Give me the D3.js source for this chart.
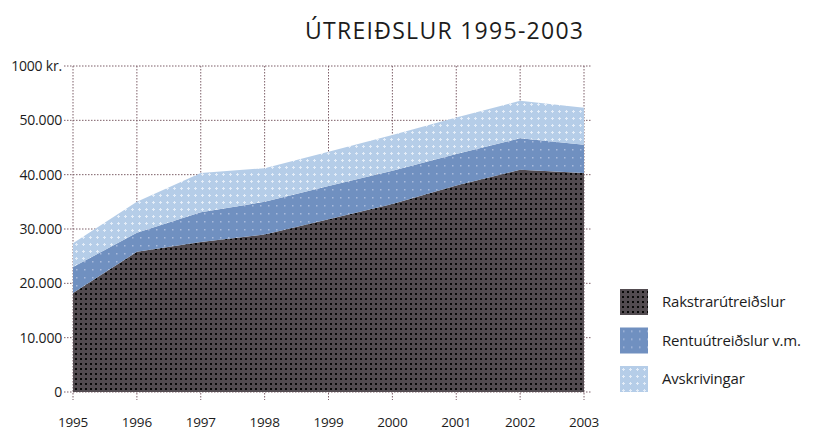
<!DOCTYPE html>
<html>
<head>
<meta charset="utf-8">
<script src="https://cdn.jsdelivr.net/npm/d3@7"></script>
<style>
  body { margin: 0; background: #fff; }
  svg { display: block; }
  text { font-family: "Open Sans", "DejaVu Sans", sans-serif; fill: #1c1c1c; }
</style>
</head>
<body>
<div id="chart"></div>
<script>
// data, 1000 kr.
const years = [1995, 1996, 1997, 1998, 1999, 2000, 2001, 2002, 2003];
const rakstrar = [18200, 25800, 27600, 29000, 31800, 34600, 38000, 40900, 40300];
const rentu = [4800, 3500, 5500, 6000, 6100, 6100, 5800, 5800, 5200];
const avskriv = [4400, 5700, 7200, 6200, 6300, 6600, 6700, 6900, 6800];
const seriesNames = ['Rakstrarútreiðslur', 'Rentuútreiðslur v.m.', 'Avskrivingar'];
const yTicks = [0, 10000, 20000, 30000, 40000, 50000, 60000];
const title = 'ÚTREIÐSLUR 1995-2003';

const width = 824, height = 433;
const margin = { top: 66, right: 240, bottom: 41, left: 73 };
const chartWidth = width - margin.left - margin.right;
const chartHeight = height - margin.top - margin.bottom;

const svg = d3.select('#chart').append('svg')
  .attr('width', width)
  .attr('height', height);

// textures for the three areas
const defs = svg.append('defs');
const dark = defs.append('pattern').attr('id', 'pat0')
  .attr('width', 5).attr('height', 5).attr('patternUnits', 'userSpaceOnUse');
dark.append('rect').attr('width', 5).attr('height', 5).attr('fill', '#524b50');
dark.append('rect').attr('x', 2).attr('y', 2).attr('width', 2).attr('height', 2).attr('fill', '#080808');

const mid = defs.append('pattern').attr('id', 'pat1')
  .attr('width', 8).attr('height', 8).attr('patternUnits', 'userSpaceOnUse');
mid.append('rect').attr('width', 8).attr('height', 8).attr('fill', '#7090c0');
mid.append('rect').attr('x', 3).attr('y', 3).attr('width', 1.5).attr('height', 1.5).attr('fill', '#a9bbdc');

const light = defs.append('pattern').attr('id', 'pat2')
  .attr('width', 7).attr('height', 7).attr('patternUnits', 'userSpaceOnUse');
light.append('rect').attr('width', 7).attr('height', 7).attr('fill', '#b5cde8');
light.append('path').attr('d', 'M3.5,2 V5 M2,3.5 H5').attr('stroke', '#e4edf8').attr('stroke-width', 1);

const patterns = ['url(#pat0)', 'url(#pat1)', 'url(#pat2)'];

const g = svg.append('g').attr('transform', `translate(${margin.left},${margin.top})`);

const x = d3.scaleLinear().domain(d3.extent(years)).range([0, chartWidth]);
const y = d3.scaleLinear().domain([0, 60000]).range([chartHeight, 0]);

// grid lines
const gridColor = '#7d5f68';
g.append('g').selectAll('line')
  .data(years)
  .join('line')
  .attr('x1', d => x(d)).attr('x2', d => x(d))
  .attr('y1', 0).attr('y2', chartHeight + 8)
  .attr('stroke', gridColor)
  .attr('stroke-width', 1)
  .attr('stroke-dasharray', '1.5,1.5');

g.append('g').selectAll('line')
  .data(yTicks)
  .join('line')
  .attr('x1', -9).attr('x2', chartWidth + 8)
  .attr('y1', d => y(d)).attr('y2', d => y(d))
  .attr('stroke', gridColor)
  .attr('stroke-width', 1)
  .attr('stroke-dasharray', '1.5,1.5');

// stacked areas
const table = years.map((yr, i) => ({ year: yr, s0: rakstrar[i], s1: rentu[i], s2: avskriv[i] }));
const layers = d3.stack().keys(['s0', 's1', 's2'])(table);

const area = d3.area()
  .x(d => x(d.data.year))
  .y0(d => y(d[0]))
  .y1(d => y(d[1]));

g.selectAll('path.layer')
  .data(layers)
  .join('path')
  .attr('class', 'layer')
  .attr('d', area)
  .attr('fill', (d, i) => patterns[i]);

// y tick labels
g.append('g').selectAll('text')
  .data(yTicks)
  .join('text')
  .attr('x', -11)
  .attr('y', d => y(d))
  .attr('dy', '0.35em')
  .attr('text-anchor', 'end')
  .style('font-size', '14px')
  .style('letter-spacing', '-0.2px')
  .text(d => d === 60000 ? '1000 kr.' : d3.format(',')(d).replace(/,/g, '.'));

// x tick labels
g.append('g').selectAll('text')
  .data(years)
  .join('text')
  .attr('x', d => x(d))
  .attr('y', chartHeight + 35)
  .attr('text-anchor', 'middle')
  .style('font-size', '13.5px')
  .style('letter-spacing', '-0.2px')
  .text(d => d);

// title
svg.append('text')
  .attr('x', 444)
  .attr('y', 39)
  .attr('text-anchor', 'middle')
  .attr('textLength', 278)
  .attr('lengthAdjust', 'spacing')
  .style('font-size', '23px')
  .text(title);

// legend
const legend = svg.append('g').attr('transform', 'translate(620,289)');
const item = legend.selectAll('g')
  .data(seriesNames)
  .join('g')
  .attr('transform', (d, i) => `translate(0,${i * 38.5})`);
item.append('rect')
  .attr('width', 28).attr('height', 26)
  .attr('fill', (d, i) => patterns[i]);
item.append('text')
  .attr('x', 42).attr('y', 13)
  .attr('dy', '0.35em')
  .style('font-size', '15px')
  .style('letter-spacing', '-0.2px')
  .text(d => d);
</script>
</body>
</html>
